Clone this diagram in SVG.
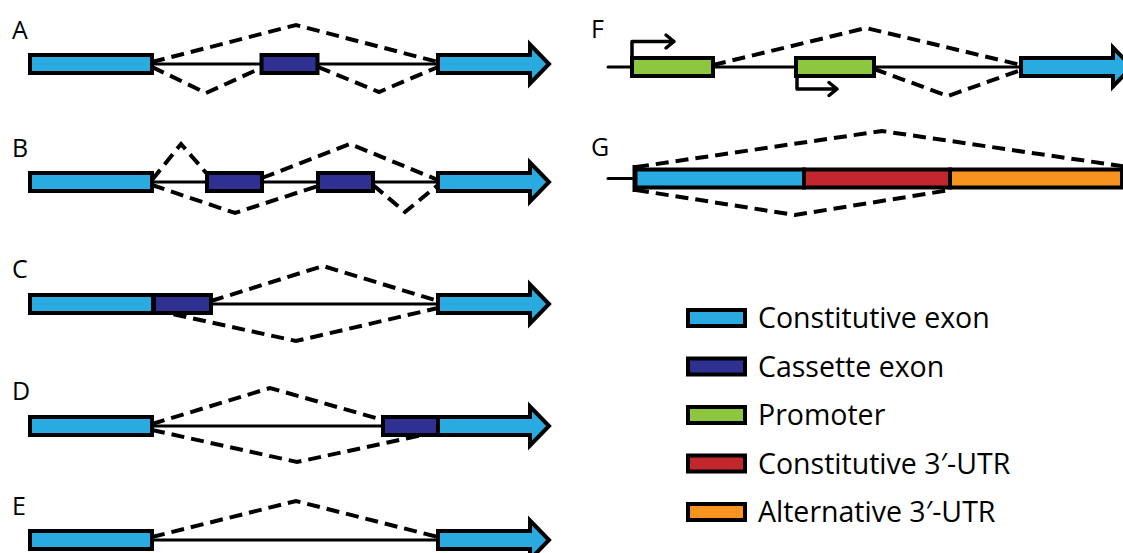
<svg xmlns="http://www.w3.org/2000/svg" width="1123" height="553" viewBox="0 0 1123 553">
<style>
.ex{stroke:#000;stroke-width:4;stroke-linejoin:miter}
.c{fill:#29ABE2}.k{fill:#2E3192}.g{fill:#8DC63F}.r{fill:#C1272D}.o{fill:#F7931E}
.in{stroke:#000;stroke-width:3;fill:none;stroke-linecap:round}
.sp{stroke:#000;stroke-width:4;fill:none;stroke-dasharray:13 7}
.pa{stroke:#000;stroke-width:3.5;fill:none;stroke-linejoin:round;stroke-linecap:round}
.lb{font-family:"Open Sans","Noto Sans","Liberation Sans",sans-serif;font-size:25px;fill:#000}
.lg{font-family:"Open Sans","Noto Sans","Liberation Sans",sans-serif;font-size:28.5px;fill:#000}
</style>
<defs>
<path id="arw" d="M0,-9 H92 V-19.5 L111,0 L92,19.5 V9 H0 Z"/>
</defs>
<rect width="1123" height="553" fill="#fff"/>
<g id="connectors">
<line class="in" x1="152" y1="64" x2="438" y2="64"/>
<path class="sp" d="M152,62 L296,25 L438,62 M152,67 L206,93 L261,68 M318,67 L379,92 L438,67"/>
<line class="in" x1="152" y1="182" x2="438" y2="182"/>
<path class="sp" d="M152,180 L181,144 L208,175 M262,178 L350,144 L438,180 M152,185 L235,213 L318,186 M373,185 L405,212 L438,185"/>
<line class="in" x1="211" y1="304" x2="438" y2="304"/>
<path class="sp" d="M211,301 L323,266 L438,301 M154,310 L296,341 L438,308"/>
<line class="in" x1="152" y1="426" x2="383" y2="426"/>
<path class="sp" d="M152,424 L270,388 L383,420 M152,430 L297,462 L432,433"/>
<line class="in" x1="152" y1="540" x2="438" y2="540"/>
<path class="sp" d="M152,537 L296,501 L438,537"/>
<line class="in" x1="608" y1="67" x2="1021" y2="67"/>
<path class="sp" d="M713,65 L866,28 L1021,65 M874,69 L948,96 L1021,70"/>
<line class="in" x1="608" y1="178.5" x2="634" y2="178.5"/>
<path class="sp" d="M636,167 L882,131 L1128,167 M636,190 L795,215 L950,190"/>
<path class="pa" d="M632,58 V41.5 H674 M666,35 L674,41.5 L666,48"/>
<path class="pa" d="M797,76 V89 H837 M829,82.5 L837,89 L829,95.5"/>
</g>
<g id="panelA">
<text class="lb" x="12" y="39">A</text>
<rect class="ex c" x="30" y="55" width="122" height="18"/>
<rect class="ex k" x="261.5" y="55" width="56" height="18"/>
<use href="#arw" class="ex c" transform="translate(438,64)"/>
</g>
<g id="panelB">
<text class="lb" x="12" y="157">B</text>
<rect class="ex c" x="30" y="173" width="122" height="18"/>
<rect class="ex k" x="207" y="173" width="55" height="18"/>
<rect class="ex k" x="318" y="173" width="55" height="18"/>
<use href="#arw" class="ex c" transform="translate(438,182)"/>
</g>
<g id="panelC">
<text class="lb" x="12" y="278">C</text>
<rect class="ex c" x="30" y="295" width="123" height="18"/>
<rect class="ex k" x="154" y="295" width="57" height="18"/>
<use href="#arw" class="ex c" transform="translate(438,304)"/>
</g>
<g id="panelD">
<text class="lb" x="12" y="400">D</text>
<rect class="ex c" x="30" y="417" width="122" height="18"/>
<use href="#arw" class="ex c" transform="translate(438,426)"/>
<rect class="ex k" x="383" y="417" width="55" height="18"/>
</g>
<g id="panelE">
<text class="lb" x="12" y="515">E</text>
<rect class="ex c" x="30" y="531" width="122" height="18"/>
<use href="#arw" class="ex c" transform="translate(438,540)"/>
</g>
<g id="panelF">
<text class="lb" x="591" y="38">F</text>
<rect class="ex g" x="632" y="58" width="81" height="18"/>
<rect class="ex g" x="796" y="58" width="78" height="18"/>
<use href="#arw" class="ex c" transform="translate(1021,67)"/>
</g>
<g id="panelG">
<text class="lb" x="591" y="156">G</text>
<rect class="ex c" x="635" y="169.5" width="169" height="18"/>
<rect class="ex r" x="804" y="169.5" width="146" height="18"/>
<rect class="ex o" x="950" y="169.5" width="172" height="18"/>
<line x1="635" y1="165" x2="635" y2="192" stroke="#000" stroke-width="5"/>
</g>
<g id="legend">
<rect class="ex c" x="688" y="310" width="57" height="16"/>
<text class="lg" x="758" y="328">Constitutive exon</text>
<rect class="ex k" x="688" y="358.5" width="57" height="16"/>
<text class="lg" x="758" y="376.5">Cassette exon</text>
<rect class="ex g" x="688" y="407" width="57" height="16"/>
<text class="lg" x="758" y="425">Promoter</text>
<rect class="ex r" x="688" y="455.5" width="57" height="16"/>
<text class="lg" x="758" y="473.5">Constitutive 3′-UTR</text>
<rect class="ex o" x="688" y="504" width="57" height="16"/>
<text class="lg" x="758" y="522">Alternative 3′-UTR</text>
</g>
</svg>
